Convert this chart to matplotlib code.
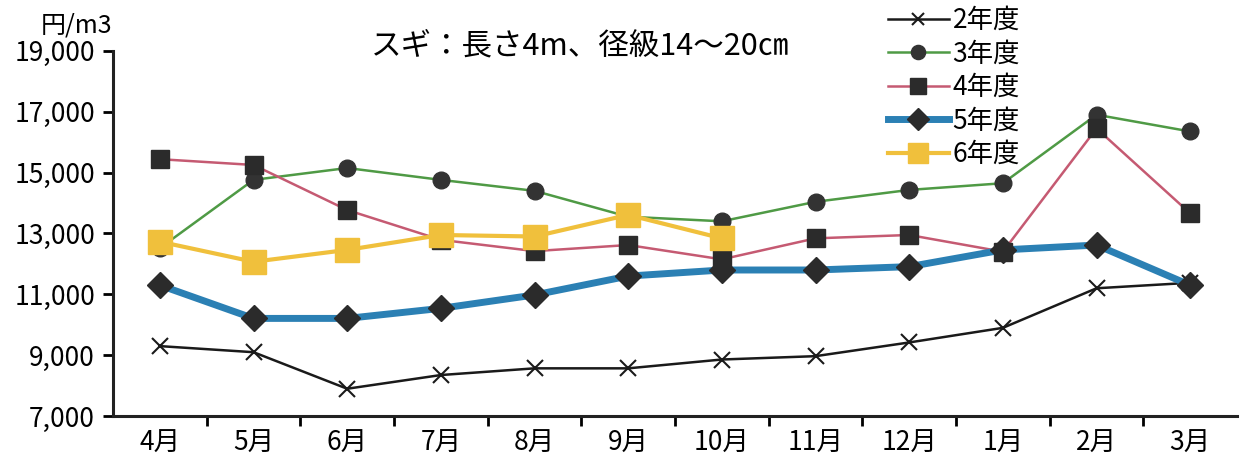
import numpy as np
import matplotlib
matplotlib.use("Agg")
import matplotlib.pyplot as plt

plt.rcParams['font.family'] = ['Noto Sans CJK JP', 'DejaVu Sans']

months = ["4月", "5月", "6月", "7月", "8月", "9月", "10月", "11月", "12月", "1月", "2月", "3月"]
fy2 = [9300, 9100, 7900, 8350, 8570, 8570, 8860, 8970, 9420, 9900, 11200, 11380]
fy3 = [12520, 14760, 15150, 14760, 14400, 13550, 13400, 14040, 14430, 14650, 16900, 16350]
fy4 = [15440, 15250, 13770, 12790, 12420, 12620, 12150, 12840, 12950, 12400, 16450, 13660]
fy5 = [11300, 10210, 10210, 10540, 10980, 11600, 11800, 11800, 11910, 12460, 12620, 11300]
fy6 = [12730, 12070, 12460, 12950, 12900, 13610, 12840]

x = np.arange(len(months))

fig = plt.figure(figsize=(12.42, 4.66), dpi=100)
ax = fig.add_axes([0.091, 0.107, 0.905, 0.784])

ax.plot(x, fy2, color="#1a1a1a", lw=1.8, marker="x", ms=11, mew=1.5,
        mec="#1a1a1a", label="2年度", zorder=3)
ax.plot(x, fy3, color="#4f9a45", lw=1.8, marker="o", ms=12, mfc="#333333",
        mec="#333333", label="3年度", zorder=4)
ax.plot(x, fy4, color="#c55a72", lw=1.8, marker="s", ms=13, mfc="#2b2b2b",
        mec="#2b2b2b", label="4年度", zorder=5)
ax.plot(x, fy5, color="#2b80b4", lw=5, marker="D", ms=13, mfc="#2b2b2b",
        mec="#2b2b2b", label="5年度", zorder=6)
ax.plot(x[:len(fy6)], fy6, color="#f0c03c", lw=3, marker="s", ms=17,
        mfc="#f0c03c", mec="#f0c03c", label="6年度", zorder=7)

ax.set_xlim(-0.5, len(months) - 0.5)
ax.set_ylim(7000, 19000)
ax.set_yticks(np.arange(7000, 19001, 2000))
ax.set_yticklabels([f"{v:,}" for v in range(7000, 19001, 2000)], fontsize=19)
ax.set_xticks(x)
ax.set_xticklabels(months, fontsize=19)
ax.set_xticks(np.arange(0.5, len(months) - 0.5, 1), minor=True)
ax.tick_params(axis="x", which="major", length=0, pad=10)
ax.tick_params(axis="x", which="minor", length=7, width=2, direction="out")
ax.tick_params(axis="y", length=7, width=2, direction="out", pad=6)

for s in ["top", "right"]:
    ax.spines[s].set_visible(False)
for s in ["left", "bottom"]:
    ax.spines[s].set_linewidth(2.2)
    ax.spines[s].set_color("#222222")

fig.text(0.033, 0.93, "円/m3", fontsize=18)
fig.text(0.467, 0.883, "スギ：長さ4m、径級14～20㎝", fontsize=22, ha="center")

fig.legend(loc="upper left", bbox_to_anchor=(0.7, 1.025), frameon=False,
           fontsize=19, handlelength=2.3, labelspacing=0.25, handletextpad=0.15,
           borderpad=0.2, markerscale=0.85)

fig.savefig("out.png", dpi=100)
